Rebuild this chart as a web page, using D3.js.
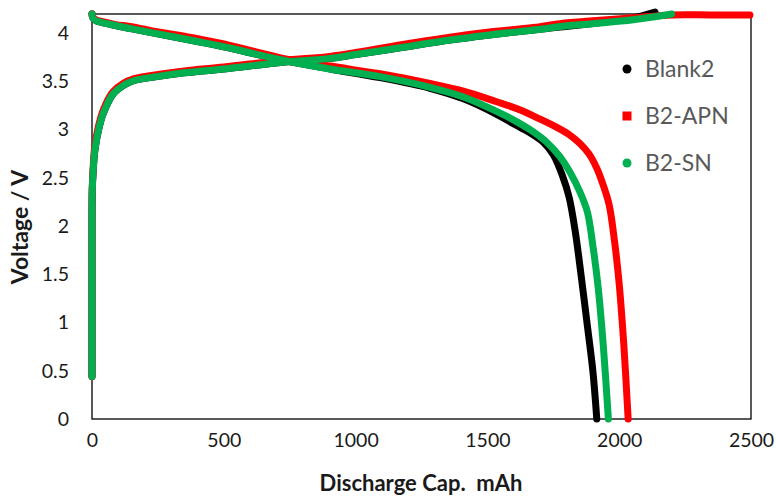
<!DOCTYPE html>
<html>
<head>
<meta charset="utf-8">
<script src="https://cdn.jsdelivr.net/npm/d3@7/dist/d3.min.js"></script>
<style>
  html, body { margin: 0; padding: 0; background: #fff; }
  svg { display: block; }
</style>
</head>
<body>
<svg id="chart" width="776" height="497"></svg>
<script>
// ---- data: [capacity mAh, voltage V] ----
const seriesNames = ["Blank2", "B2-APN", "B2-SN"];
const seriesColors = ["#000000", "#ff0000", "#00b050"];

const blankCharge = [[0,0.44],[0,1.0],[0,1.5],[0,2.0],[1,2.37],[4,2.55],[11,2.79],[25,3.0],[43,3.17],[80,3.37],[120,3.46],[160,3.51],[220,3.54],[350,3.59],[500,3.63],[725,3.70],[903,3.74],[1000,3.78],[1168,3.85],[1358,3.93],[1500,3.98],[1725,4.05],[1900,4.10],[2053,4.16],[2136,4.22]];
const blankDischarge = [[0,4.2],[3,4.16],[15,4.13],[40,4.11],[90,4.08],[144,4.05],[220,4.01],[410,3.91],[500,3.86],[725,3.72],[903,3.63],[1093,3.54],[1282,3.43],[1409,3.32],[1535,3.16],[1600,3.06],[1660,2.97],[1712,2.87],[1750,2.74],[1785,2.52],[1810,2.30],[1833,1.95],[1855,1.50],[1880,0.95],[1900,0.50],[1915,0]];

const apnCharge = [[0,0.44],[0,1.0],[0,1.5],[0,2.0],[1,2.40],[4,2.58],[10,2.82],[24,3.03],[42,3.20],[78,3.39],[118,3.48],[160,3.53],[220,3.56],[350,3.61],[500,3.65],[725,3.72],[903,3.76],[1000,3.80],[1168,3.88],[1358,3.96],[1500,4.01],[1674,4.06],[1775,4.10],[1900,4.13],[2053,4.16],[2200,4.19],[2350,4.19],[2496,4.19]];
const apnDischarge = [[0,4.2],[3,4.17],[15,4.14],[40,4.12],[90,4.09],[144,4.07],[220,4.03],[410,3.94],[500,3.89],[725,3.74],[903,3.66],[1093,3.58],[1282,3.48],[1409,3.40],[1535,3.29],[1620,3.21],[1700,3.11],[1760,3.03],[1810,2.95],[1850,2.86],[1885,2.75],[1915,2.60],[1940,2.42],[1962,2.22],[1982,1.85],[2000,1.40],[2018,0.75],[2034,0]];

const snCharge = [[0,0.44],[0,1.0],[0,1.5],[0,2.0],[1,2.37],[4,2.55],[11,2.79],[25,3.0],[43,3.17],[80,3.37],[120,3.46],[160,3.51],[220,3.54],[350,3.59],[500,3.63],[725,3.70],[903,3.74],[1000,3.78],[1168,3.85],[1358,3.93],[1500,3.98],[1725,4.05],[1775,4.07],[1900,4.10],[2053,4.14],[2199,4.20]];
const snDischarge = [[0,4.2],[3,4.16],[15,4.13],[40,4.11],[90,4.08],[144,4.05],[220,4.01],[410,3.91],[500,3.86],[725,3.72],[903,3.63],[1093,3.55],[1282,3.44],[1409,3.34],[1535,3.19],[1600,3.10],[1662,3.00],[1725,2.87],[1775,2.72],[1815,2.55],[1850,2.36],[1879,2.15],[1900,1.80],[1920,1.37],[1940,0.75],[1959,0]];

const xTicks = [0, 500, 1000, 1500, 2000, 2500];
const yTicks = [0, 0.5, 1, 1.5, 2, 2.5, 3, 3.5, 4];
const xTitle = "Discharge Cap.  mAh";
const yTitle = "Voltage / V";

// ---- layout ----
const svg = d3.select("#chart");
const plot = { left: 92, right: 751, top: 14, bottom: 419 };

const x = d3.scaleLinear().domain([0, 2500]).range([plot.left, plot.right]);
const y = d3.scaleLinear().domain([0, 4.2]).range([plot.bottom, plot.top]);

const font = "Lato, Carlito, 'Open Sans', sans-serif";

// frame
svg.append("rect")
  .attr("x", plot.left).attr("y", plot.top)
  .attr("width", plot.right - plot.left).attr("height", plot.bottom - plot.top)
  .attr("fill", "none").attr("stroke", "#000").attr("stroke-width", 1.3);

// axes
const xAxis = svg.append("g")
  .attr("transform", `translate(0,${plot.bottom})`)
  .call(d3.axisBottom(x).tickValues(xTicks).tickSize(0).tickPadding(14).tickFormat(d => String(d)));
const yAxis = svg.append("g")
  .attr("transform", `translate(${plot.left},0)`)
  .call(d3.axisLeft(y).tickValues(yTicks).tickSize(0).tickPadding(23).tickFormat(d => String(d)));
[xAxis, yAxis].forEach(g => {
  g.select(".domain").remove();
  g.selectAll("text").attr("font-family", font).attr("font-size", 19.5).attr("fill", "#1a1a1a");
});

// series
const lineX = d3.line().x(d => x(d[0])).y(d => y(d[1])).curve(d3.curveCatmullRom.alpha(0.5));
const seriesData = [
  [blankCharge, blankDischarge],
  [apnCharge, apnDischarge],
  [snCharge, snDischarge]
];
const g = svg.append("g");
seriesData.forEach((pair, i) => {
  pair.forEach(arr => {
    g.append("path")
      .attr("d", lineX(arr))
      .attr("fill", "none")
      .attr("stroke", seriesColors[i])
      .attr("stroke-width", 7)
      .attr("stroke-linecap", "round")
      .attr("stroke-linejoin", "round");
  });
});

// legend
const legendY = [69, 116, 163];
const lg = svg.append("g");
seriesNames.forEach((name, i) => {
  if (i === 1) {
    lg.append("rect").attr("x", 627 - 4.5).attr("y", legendY[i] - 4.5)
      .attr("width", 9).attr("height", 9).attr("fill", seriesColors[i]);
  } else {
    lg.append("circle").attr("cx", 627).attr("cy", legendY[i]).attr("r", 4.5)
      .attr("fill", seriesColors[i]);
  }
  lg.append("text").attr("x", 645).attr("y", legendY[i]).attr("dy", "0.35em")
    .attr("font-family", font).attr("font-size", 23).attr("fill", "#595959")
    .text(name);
});

// titles
svg.append("text")
  .attr("x", 421).attr("y", 491)
  .attr("text-anchor", "middle")
  .attr("font-family", font).attr("font-size", 22).attr("font-weight", "bold")
  .attr("fill", "#1a1a1a")
  .style("white-space", "pre")
  .text(xTitle);
svg.append("text")
  .attr("transform", `translate(28,${227}) rotate(-90)`)
  .attr("text-anchor", "middle")
  .attr("font-family", font).attr("font-size", 23).attr("font-weight", "bold")
  .attr("fill", "#1a1a1a")
  .text(yTitle);
</script>
</body>
</html>
